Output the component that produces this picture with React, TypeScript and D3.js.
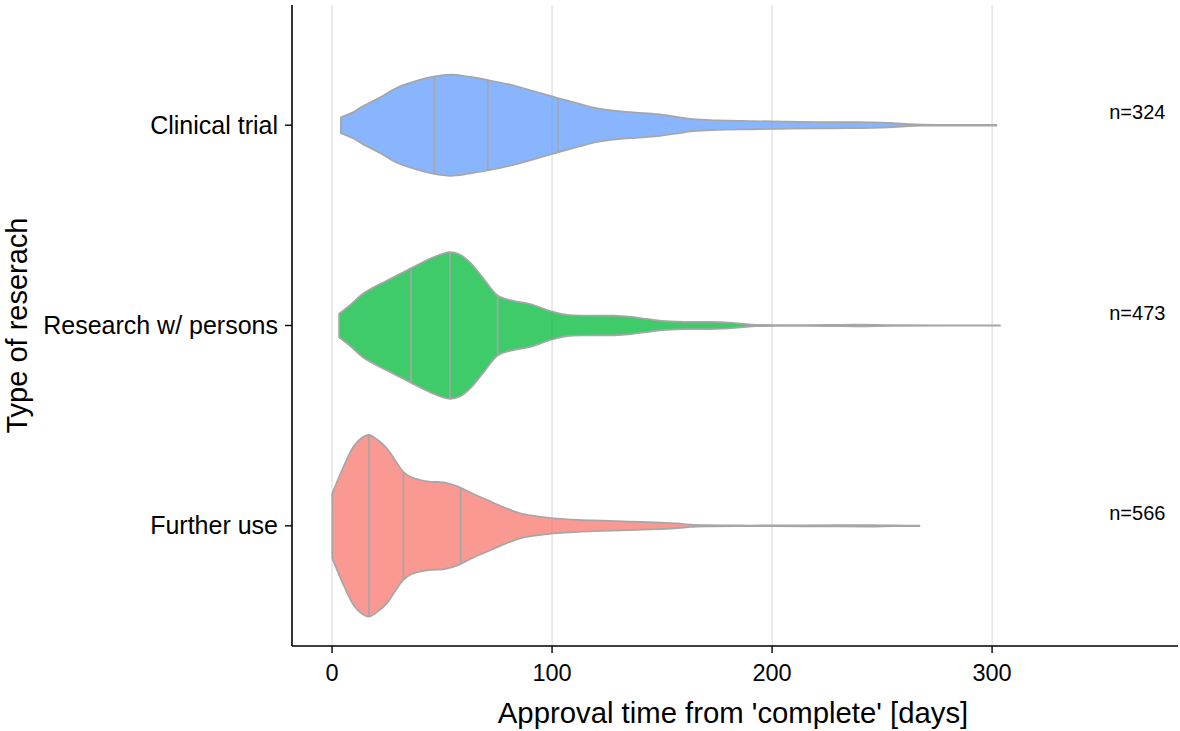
import React from "react";
import * as d3 from "d3";

// ---- data ----
const categories = ["Further use", "Research w/ persons", "Clinical trial"];
const counts = [566, 473, 324];
const fills = ["#F8766D", "#00BA38", "#619CFF"];

// density profiles: [days, relative density] (peak of "Further use" = 1)
const furtherUseDensity: [number, number][] = [
  [0.1, 0.358], [5, 0.639], [9.7, 0.87], [13, 0.958], [16.8, 1.0], [20, 0.958],
  [24.9, 0.854], [28.5, 0.727], [32.4, 0.595], [36, 0.534], [40, 0.504], [45, 0.485],
  [50.6, 0.479], [55, 0.452], [58.5, 0.419], [64, 0.352], [70.3, 0.286], [78, 0.204],
  [85.5, 0.138], [93, 0.105], [100.6, 0.083], [112, 0.066], [123, 0.057], [135, 0.047],
  [149, 0.036], [157, 0.026], [163, 0.013], [170, 0.007], [185, 0.004], [200, 0.004],
  [230, 0.007], [245, 0.008], [255, 0.004], [267, 0.003],
];
const researchDensity: [number, number][] = [
  [3.2, 0.129], [8, 0.22], [14, 0.349], [25, 0.496], [36, 0.632], [44.5, 0.735],
  [53.6, 0.808], [58, 0.782], [62.7, 0.694], [68.8, 0.518], [75.3, 0.33], [82.4, 0.271],
  [90, 0.237], [100, 0.154], [107, 0.116], [118, 0.11], [128, 0.108], [136, 0.094],
  [143, 0.072], [150, 0.05], [160, 0.04], [172, 0.039], [180, 0.033], [187, 0.018],
  [193, 0.008], [205, 0.004], [225, 0.006], [240, 0.009], [255, 0.004], [303.6, 0.003],
];
const clinicalDensity: [number, number][] = [
  [4, 0.088], [10, 0.149], [14, 0.209], [22, 0.308], [29, 0.407], [38, 0.485],
  [46, 0.535], [54, 0.557], [62, 0.534], [71, 0.496], [80, 0.452], [87, 0.407],
  [95, 0.352], [103, 0.297], [112, 0.237], [120, 0.187], [130, 0.154], [138, 0.139],
  [148, 0.121], [156, 0.094], [164, 0.066], [175, 0.053], [190, 0.046], [205, 0.04],
  [220, 0.035], [235, 0.033], [245, 0.031], [255, 0.022], [262, 0.011], [268, 0.006],
  [280, 0.004], [302, 0.004],
];
const densities = [furtherUseDensity, researchDensity, clinicalDensity];

// quartiles (25%, 50%, 75%) in days
const furtherUseQuartiles = [16.8, 32.4, 58.5];
const researchQuartiles = [35.9, 53.6, 75.3];
const clinicalQuartiles = [46.5, 70.8, 102.6];
const quartiles = [furtherUseQuartiles, researchQuartiles, clinicalQuartiles];

const xTicks = [0, 100, 200, 300];
const xDomain = [-18.2, 384.5];
const nLabelDay = 366;

const W = 1180;
const H = 731;
const margin = { left: 292, right: 2, top: 5, bottom: 85 };

function interp(profile: [number, number][], day: number): number {
  for (let i = 0; i < profile.length - 1; i++) {
    const [x0, y0] = profile[i];
    const [x1, y1] = profile[i + 1];
    if (day >= x0 && day <= x1) return y0 + ((y1 - y0) * (day - x0)) / (x1 - x0);
  }
  return 0;
}

export default function App() {
  const plotBottom = H - margin.bottom;
  const x = d3.scaleLinear().domain(xDomain).range([margin.left, W - margin.right]);
  const y = d3
    .scalePoint<string>()
    .domain(categories)
    .range([plotBottom, margin.top])
    .padding(0.6);
  const step = y.step();
  const w = d3.scaleLinear().domain([0, 1]).range([0, step * 0.4535]);

  const font = "'Liberation Sans', Arial, Helvetica, sans-serif";
  const outline = "#A6A6A6";

  return (
    <svg
      width={W}
      height={H}
      style={{ position: "absolute", left: 0, top: 0, background: "#fff" }}
      fontFamily={font}
    >
      {/* grid */}
      {xTicks.map((t) => (
        <line
          key={"g" + t}
          x1={x(t)}
          x2={x(t)}
          y1={margin.top}
          y2={plotBottom}
          stroke="#D9D9D9"
          strokeWidth={1.1}
        />
      ))}

      {/* violins */}
      {categories.map((c, i) => {
        const cy = y(c)!;
        const prof = densities[i];
        const area = d3
          .area<[number, number]>()
          .x((d) => x(d[0]))
          .y0((d) => cy - w(d[1]))
          .y1((d) => cy + w(d[1]))
          .curve(d3.curveCatmullRom.alpha(0.5));
        return (
          <g key={c}>
            <path
              d={area(prof)!}
              fill={fills[i]}
              fillOpacity={0.75}
              stroke={outline}
              strokeWidth={1.7}
              strokeLinejoin="round"
            />
            {quartiles[i].map((q) => {
              const hw = w(interp(prof, q));
              return (
                <line
                  key={q}
                  x1={x(q)}
                  x2={x(q)}
                  y1={cy - hw}
                  y2={cy + hw}
                  stroke={outline}
                  strokeWidth={1.7}
                />
              );
            })}
            <text
              x={x(nLabelDay)}
              y={cy - 13}
              dy={7}
              textAnchor="middle"
              fontSize={20}
              fill="#000"
            >
              {"n=" + counts[i]}
            </text>
          </g>
        );
      })}

      {/* axes */}
      <line x1={margin.left} x2={margin.left} y1={margin.top} y2={plotBottom} stroke="#000" strokeWidth={1.6} />
      <line x1={margin.left} x2={W - margin.right} y1={plotBottom} y2={plotBottom} stroke="#000" strokeWidth={1.6} />
      {categories.map((c) => (
        <g key={"yt" + c}>
          <line x1={margin.left - 7} x2={margin.left} y1={y(c)} y2={y(c)} stroke="#000" strokeWidth={1.4} />
          <text x={margin.left - 14} y={y(c)} dy={8.5} textAnchor="end" fontSize={25} fill="#000">
            {c}
          </text>
        </g>
      ))}
      {xTicks.map((t) => (
        <g key={"xt" + t}>
          <line x1={x(t)} x2={x(t)} y1={plotBottom} y2={plotBottom + 7} stroke="#000" strokeWidth={1.4} />
          <text x={x(t)} y={plotBottom + 35} textAnchor="middle" fontSize={23.5} fill="#000">
            {t}
          </text>
        </g>
      ))}
      <text x={(margin.left + W - margin.right) / 2 - 2} y={723} textAnchor="middle" fontSize={29.3} fill="#000">
        Approval time from 'complete' [days]
      </text>
      <text
        transform={`translate(27, ${(margin.top + plotBottom) / 2}) rotate(-90)`}
        textAnchor="middle"
        fontSize={29}
        fill="#000"
      >
        Type of reserach
      </text>
    </svg>
  );
}
